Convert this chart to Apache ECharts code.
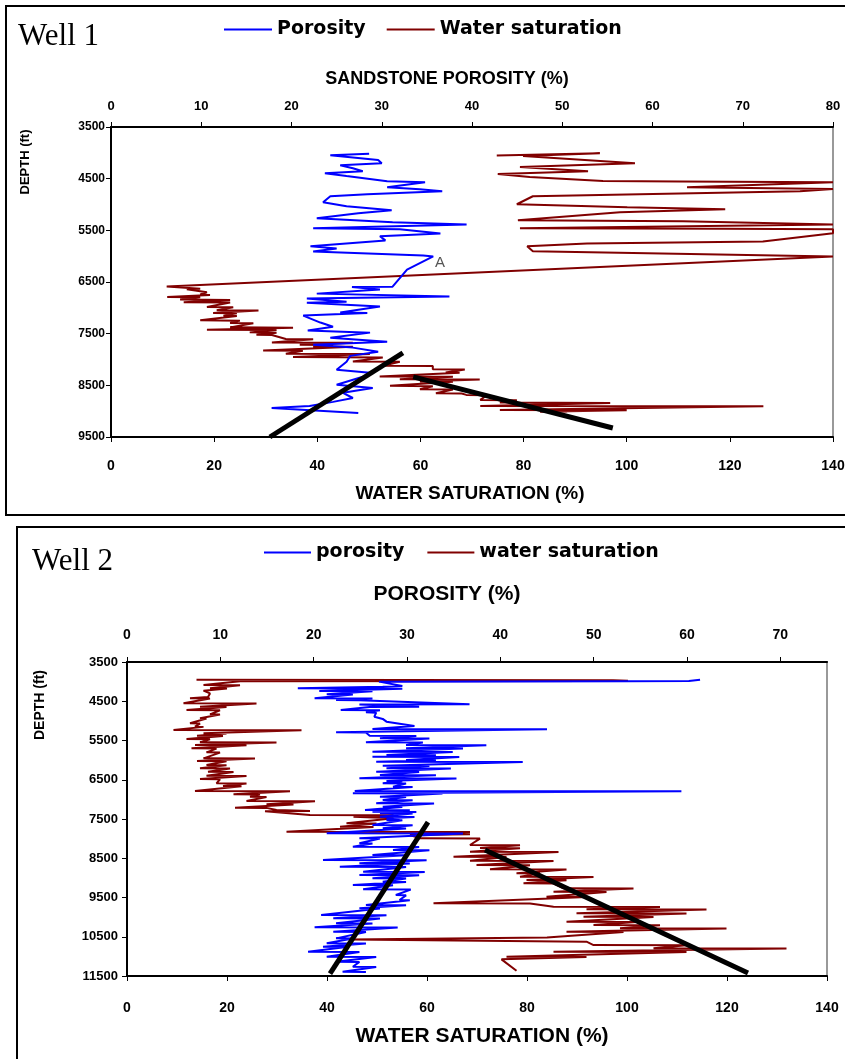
<!DOCTYPE html>
<html>
<head>
<meta charset="utf-8">
<script src="https://cdn.jsdelivr.net/npm/echarts@6/dist/echarts.min.js"></script>
<style>
  html, body { margin: 0; padding: 0; background: #fff; }
  #chart { width: 845px; height: 1059px; }
</style>
</head>
<body>
<div id="chart"></div>
<script>
// ---- Well 1 : [value %, depth ft] ----
const well1Porosity = [
  [28.6,4020],[24.3,4045],[29.6,4140],[30.0,4200],[25.4,4240],[26.8,4300],[27.9,4355],[23.7,4395],
  [26.1,4450],[30.6,4550],[34.8,4570],[30.6,4665],[34.2,4705],[36.7,4745],[28.4,4800],[24.3,4840],
  [23.5,4955],[26.1,5035],[31.1,5110],[27.4,5170],[22.8,5265],[31.2,5345],[39.4,5385],[22.4,5460],
  [32.0,5480],[36.5,5560],[29.8,5615],[30.4,5695],[22.1,5810],[25.0,5850],[22.4,5910],[34.6,5985],
  [35.7,6005],[32.8,6260],[31.2,6590],[26.7,6595],[29.8,6645],[22.8,6725],[37.5,6780],[21.7,6820],
  [26.1,6880],[21.7,6900],[29.8,6975],[25.4,7090],[28.4,7100],[21.3,7150],[23.2,7285],[24.6,7365],
  [21.8,7440],[28.7,7480],[24.3,7580],[30.6,7655],[22.4,7715],[26.8,7770],[29.6,7850],[26.5,7930],
  [26.1,8045],[25.0,8200],[29.0,8260],[27.9,8335],[25.0,8490],[29.0,8550],[25.7,8645],[26.8,8745],
  [24.6,8820],[22.0,8900],[17.8,8940],[27.4,9035]
];
const well1WaterSat = [
  [74.8,4050],[94.8,4010],[79.9,4060],[101.6,4200],[79.3,4275],[92.5,4355],[75.0,4410],[81.2,4470],
  [95.4,4545],[110.3,4555],[140,4570],[111.7,4665],[140,4700],[133.6,4745],[81.8,4840],[78.7,4995],
  [100.1,5055],[119.1,5090],[98.7,5150],[78.9,5305],[110.9,5325],[140,5385],[79.3,5460],[118.7,5470],
  [140,5480],[140,5555],[126.4,5715],[92.3,5755],[80.7,5810],[81.8,5905],[140,6005],[10.8,6585],
  [17.3,6633],[14.7,6640],[18.6,6698],[17.3,6743],[19.2,6750],[10.9,6789],[17.3,6795],[13.4,6840],
  [23.1,6846],[14.1,6892],[23.1,6898],[18.6,6983],[23.7,6989],[20.5,7047],[28.6,7053],[19.8,7099],
  [24.4,7105],[21.8,7151],[24.4,7157],[17.3,7242],[25.0,7248],[23.1,7293],[27.6,7299],[23.1,7378],
  [35.3,7384],[18.6,7423],[32.1,7429],[26.9,7475],[32.1,7481],[28.2,7520],[31.2,7526],[33.9,7604],
  [39.2,7610],[31.2,7669],[46.9,7675],[36.6,7714],[43.1,7720],[39.2,7747],[46.9,7753],[29.5,7824],
  [37.2,7830],[33.9,7889],[50.2,7895],[35.3,7954],[52.7,7960],[46.9,8038],[56.0,8044],[52.7,8122],
  [62.4,8128],[62.4,8187],[68.6,8193],[64.9,8252],[67.6,8258],[52.1,8329],[66.3,8335],[56.0,8381],
  [71.5,8387],[59.9,8426],[66.3,8432],[54.1,8510],[62.4,8516],[59.9,8575],[66.3,8581],[63.0,8653],
  [68.0,8659],[68.9,8685],[72.9,8691],[71.6,8782],[78.7,8788],[75.4,8834],[96.8,8840],[71.6,8899],
  [126.5,8905],[75.4,8976],[100.0,8982],[83.2,9009],[88.4,9015]
];
const well1TrendPorosity = [[30.8,9500],[56.6,7870]];
const well1TrendWaterSat = [[58.6,8335],[97.3,9325]];
const well1NoteA = [63.8, 6250];

// ---- Well 2 : [value %, depth ft] ----
const well2Porosity = [
  [61.4,3955],[60.2,3985],[53.6,3990],[27.0,4000],[29.5,4110],[27.4,4130],[18.3,4171],[29.5,4180],
  [20.6,4239],[26.3,4245],[21.4,4324],[24.2,4330],[20.1,4426],[26.3,4432],[22.4,4468],[24.9,4474],
  [36.7,4579],[24.9,4585],[31.3,4638],[26.0,4644],[22.9,4723],[27.1,4730],[25.6,4782],[26.7,4790],
  [26.5,4893],[27.4,4950],[27.8,5020],[30.8,5131],[26.3,5207],[45.0,5215],[22.4,5292],[25.6,5297],
  [26.0,5377],[31.0,5383],[27.1,5445],[32.4,5450],[25.6,5547],[31.7,5553],[29.9,5615],[38.5,5620],
  [29.9,5700],[36.0,5705],[26.3,5785],[34.9,5790],[27.8,5870],[33.1,5875],[26.3,5912],[35.6,5920],
  [29.9,5997],[33.1,6003],[26.7,6040],[42.4,6048],[27.4,6141],[32.4,6147],[27.8,6209],[34.7,6215],
  [26.7,6294],[31.3,6300],[27.1,6379],[33.1,6385],[24.9,6464],[35.3,6470],[27.8,6532],[29.5,6538],
  [27.4,6592],[29.9,6598],[28.5,6677],[30.6,6683],[24.4,6787],[59.4,6790],[24.2,6846],[33.8,6852],
  [27.1,6931],[29.9,6937],[27.4,7016],[30.6,7022],[26.7,7101],[32.9,7107],[27.4,7186],[29.5,7192],
  [25.5,7271],[30.3,7277],[26.3,7313],[31.0,7320],[27.1,7356],[30.6,7362],[27.1,7441],[30.8,7447],
  [27.8,7483],[29.2,7490],[27.8,7526],[29.5,7532],[26.3,7653],[30.6,7659],[27.4,7738],[29.9,7744],
  [21.4,7866],[36.0,7872],[24.9,7993],[27.1,7999],[24.9,8120],[26.3,8126],[24.2,8205],[31.3,8211],
  [28.5,8290],[32.4,8296],[26.3,8418],[29.9,8424],[21.0,8545],[32.1,8551],[24.9,8630],[30.3,8636],
  [22.8,8715],[29.9,8721],[25.3,8842],[31.9,8848],[24.9,8927],[31.3,8933],[26.3,9012],[29.9,9018],
  [27.4,9097],[29.9,9103],[24.2,9182],[28.5,9188],[25.3,9292],[30.4,9298],[28.8,9437],[29.9,9445],
  [29.2,9564],[30.3,9570],[25.6,9692],[29.9,9698],[24.9,9776],[27.1,9782],[20.8,9946],[27.8,9952],
  [22.1,10031],[27.1,10037],[22.4,10159],[26.3,10165],[20.1,10261],[29.0,10267],[22.1,10371],[25.6,10377],
  [22.4,10541],[24.2,10547],[21.4,10668],[25.6,10674],[21.0,10753],[23.5,10759],[19.4,10880],[24.9,10886],
  [21.4,11008],[26.7,11014],[22.4,11135],[24.9,11141],[24.2,11263],[26.7,11269],[23.1,11390],[25.6,11396]
];
const well2WaterSat = [
  [13.9,3955],[97.2,3962],[100.2,3980],[97.0,3984],[22.6,3990],[15.3,4086],[22.6,4092],[16.6,4171],
  [20.0,4177],[15.3,4230],[16.6,4300],[16.2,4392],[12.6,4426],[16.6,4432],[11.3,4553],[25.9,4559],
  [14.6,4638],[19.9,4644],[11.9,4723],[18.6,4729],[16.6,4833],[18.6,4839],[14.6,4935],[15.9,4941],
  [12.6,5062],[14.6,5068],[13.6,5147],[15.3,5153],[9.3,5232],[34.9,5238],[15.3,5317],[19.9,5323],
  [14.0,5377],[19.2,5383],[11.9,5462],[16.6,5468],[14.6,5547],[29.9,5553],[13.6,5615],[23.9,5621],
  [12.9,5700],[17.9,5706],[15.9,5802],[18.6,5808],[15.3,5955],[25.6,5961],[14.0,6023],[19.9,6029],
  [15.9,6124],[19.9,6130],[14.6,6209],[20.6,6215],[16.2,6294],[21.3,6300],[15.9,6396],[23.9,6402],
  [14.6,6481],[18.6,6487],[17.9,6592],[23.9,6598],[19.2,6660],[22.9,6666],[13.6,6787],[32.6,6793],
  [21.3,6872],[26.6,6878],[24.6,6931],[27.9,6937],[23.9,7041],[37.6,7047],[27.9,7126],[33.3,7132],
  [21.6,7211],[27.9,7217],[29.9,7271],[36.6,7296],[27.6,7302],[36.6,7398],[53.3,7404],[45.3,7441],
  [53.3,7483],[43.9,7611],[49.9,7617],[42.6,7696],[49.3,7702],[31.9,7823],[68.6,7829],[58.6,7882],
  [68.6,7888],[56.6,7908],[58.6,7993],[70.6,7999],[68.6,8163],[78.6,8169],[70.6,8240],[78.6,8246],
  [68.6,8333],[86.3,8339],[65.3,8460],[75.9,8466],[68.6,8562],[85.3,8568],[69.9,8672],[80.6,8678],
  [72.6,8783],[87.9,8789],[77.9,8885],[82.6,8891],[78.6,8970],[93.3,8976],[79.9,9055],[87.9,9061],
  [79.3,9139],[85.3,9145],[87.3,9267],[101.3,9273],[85.3,9352],[95.9,9358],[83.9,9479],[91.9,9485],
  [61.3,9649],[80.6,9655],[85.3,9734],[106.6,9740],[91.9,9802],[115.9,9808],[89.9,9904],[111.9,9910],
  [91.3,9989],[105.3,9995],[87.9,10116],[101.9,10122],[93.3,10201],[106.6,10207],[98.6,10286],[119.9,10292],
  [87.9,10371],[99.3,10377],[84.0,10520],[44.6,10570],[91.9,10626],[93.3,10711],[111.9,10717],[105.3,10796],
  [131.9,10802],[85.3,10881],[111.9,10887],[75.9,11008],[91.9,11014],[74.9,11076],[77.9,11365]
];
const well2TrendPorosity = [[40.6,11440],[60.2,7577]];
const well2TrendWaterSat = [[71.6,8290],[124.2,11424]];

// ---- tick labels ----
const well1DepthTicks = [3500,4500,5500,6500,7500,8500,9500];
const well2DepthTicks = [3500,4500,5500,6500,7500,8500,9500,10500,11500];
const well1PorosityTicks = [0,10,20,30,40,50,60,70,80];
const well2PorosityTicks = [0,10,20,30,40,50,60,70];
const waterSatTicks = [0,20,40,60,80,100,120,140];

const BLUE = '#0000ff';
const RED = '#800000';
const FONT = 'Liberation Sans';

function valueAxis(opt) {
  return Object.assign({
    type: 'value',
    splitLine: { show: false },
    axisLine: { show: true, onZero: false, lineStyle: { color: '#000', width: 2 } }
  }, opt);
}

function ticks(values, extra) {
  return {
    axisTick: { show: true, length: 5, customValues: values, lineStyle: { color: '#000', width: 1 } },
    axisLabel: Object.assign({
      color: '#000', fontWeight: 'bold', fontFamily: FONT, customValues: values,
      formatter: (v) => String(v)
    }, extra)
  };
}

const chart = echarts.init(document.getElementById('chart'));

const legendText = { fontFamily: 'DejaVu Sans', fontWeight: 'bold', fontSize: 19, color: '#000' };

const option = {
  animation: false,
  backgroundColor: '#fff',
  grid: [
    { left: 111, right: 12, top: 127, bottom: 1059 - 437, show: true, borderColor: '#999', borderWidth: 2, outerBoundsMode: 'none' },
    { left: 127, right: 18, top: 662, bottom: 1059 - 976, show: true, borderColor: '#999', borderWidth: 2, outerBoundsMode: 'none' }
  ],
  legend: [
    {
      left: 219, top: 15, itemWidth: 48, itemHeight: 2, itemGap: 21, icon: 'rect',
      data: ['Porosity', 'Water saturation'], textStyle: legendText
    },
    {
      left: 259, top: 538, itemWidth: 47, itemHeight: 2, itemGap: 23, icon: 'rect',
      data: ['porosity', 'water saturation'], textStyle: legendText
    }
  ],
  xAxis: [
    valueAxis(Object.assign({ gridIndex: 0, position: 'top', min: 0, max: 80, interval: 10 },
      ticks(well1PorosityTicks, { fontSize: 13, margin: 14 }))),
    valueAxis(Object.assign({ gridIndex: 0, position: 'bottom', min: 0, max: 140, interval: 20 },
      ticks(waterSatTicks, { fontSize: 14, margin: 22 }))),
    valueAxis(Object.assign({ gridIndex: 1, position: 'top', min: 0, max: 75, interval: 5 },
      ticks(well2PorosityTicks, { fontSize: 14, margin: 20 }))),
    valueAxis(Object.assign({ gridIndex: 1, position: 'bottom', min: 0, max: 140, interval: 20 },
      ticks(waterSatTicks, { fontSize: 14, margin: 25 })))
  ],
  yAxis: [
    valueAxis(Object.assign({ gridIndex: 0, min: 3500, max: 9500, interval: 500, inverse: true },
      ticks(well1DepthTicks, { fontSize: 12, margin: 6 }))),
    valueAxis(Object.assign({ gridIndex: 1, min: 3500, max: 11500, interval: 500, inverse: true },
      ticks(well2DepthTicks, { fontSize: 13, margin: 9 })))
  ],
  series: [
    {
      name: 'Water saturation', type: 'line', xAxisIndex: 1, yAxisIndex: 0,
      data: well1WaterSat, symbol: 'none', color: RED, lineStyle: { color: RED, width: 2 },
      markPoint: {
        symbol: 'circle', symbolSize: 0,
        label: { show: true, formatter: 'A', color: '#555', fontSize: 15, fontFamily: FONT, offset: [0, -6] },
        data: [{ coord: well1NoteA }]
      }
    },
    {
      name: 'Porosity', type: 'line', xAxisIndex: 0, yAxisIndex: 0,
      data: well1Porosity, symbol: 'none', color: BLUE, lineStyle: { color: BLUE, width: 2 }
    },
    {
      type: 'line', xAxisIndex: 1, yAxisIndex: 0, data: well1TrendPorosity, symbol: 'none',
      lineStyle: { color: '#000', width: 5 }
    },
    {
      type: 'line', xAxisIndex: 1, yAxisIndex: 0, data: well1TrendWaterSat, symbol: 'none',
      lineStyle: { color: '#000', width: 5 }
    },
    {
      name: 'water saturation', type: 'line', xAxisIndex: 3, yAxisIndex: 1,
      data: well2WaterSat, symbol: 'none', color: RED, lineStyle: { color: RED, width: 2 }
    },
    {
      name: 'porosity', type: 'line', xAxisIndex: 2, yAxisIndex: 1,
      data: well2Porosity, symbol: 'none', color: BLUE, lineStyle: { color: BLUE, width: 2 }
    },
    {
      type: 'line', xAxisIndex: 3, yAxisIndex: 1, data: well2TrendPorosity, symbol: 'none',
      lineStyle: { color: '#000', width: 5 }
    },
    {
      type: 'line', xAxisIndex: 3, yAxisIndex: 1, data: well2TrendWaterSat, symbol: 'none',
      lineStyle: { color: '#000', width: 5 }
    }
  ],
  graphic: [
    // panel frames
    { type: 'rect', shape: { x: 6, y: 6, width: 850, height: 509 }, style: { fill: null, stroke: '#000', lineWidth: 2 }, silent: true },
    { type: 'rect', shape: { x: 17, y: 527, width: 840, height: 540 }, style: { fill: null, stroke: '#000', lineWidth: 2 }, silent: true },
    // well titles
    { type: 'text', x: 18, y: 37, style: { text: 'Well 1', font: '31px "Liberation Serif"', fill: '#000', textVerticalAlign: 'middle' } },
    { type: 'text', x: 32, y: 562, style: { text: 'Well 2', font: '31px "Liberation Serif"', fill: '#000', textVerticalAlign: 'middle' } },
    // axis titles
    { type: 'text', x: 447, y: 79, style: { text: 'SANDSTONE POROSITY (%)', font: 'bold 18px "Liberation Sans"', fill: '#000', textAlign: 'center', textVerticalAlign: 'middle' } },
    { type: 'text', x: 470, y: 494, style: { text: 'WATER SATURATION (%)', font: 'bold 19px "Liberation Sans"', fill: '#000', textAlign: 'center', textVerticalAlign: 'middle' } },
    { type: 'text', x: 447, y: 594, style: { text: 'POROSITY (%)', font: 'bold 21px "Liberation Sans"', fill: '#000', textAlign: 'center', textVerticalAlign: 'middle' } },
    { type: 'text', x: 482, y: 1036, style: { text: 'WATER SATURATION (%)', font: 'bold 21px "Liberation Sans"', fill: '#000', textAlign: 'center', textVerticalAlign: 'middle' } },
    { type: 'text', x: 25, y: 162, rotation: Math.PI / 2, style: { text: 'DEPTH (ft)', font: 'bold 13px "Liberation Sans"', fill: '#000', textAlign: 'center', textVerticalAlign: 'middle' } },
    { type: 'text', x: 40, y: 705, rotation: Math.PI / 2, style: { text: 'DEPTH (ft)', font: 'bold 14px "Liberation Sans"', fill: '#000', textAlign: 'center', textVerticalAlign: 'middle' } }
  ]
};

chart.setOption(option);
</script>
</body>
</html>
